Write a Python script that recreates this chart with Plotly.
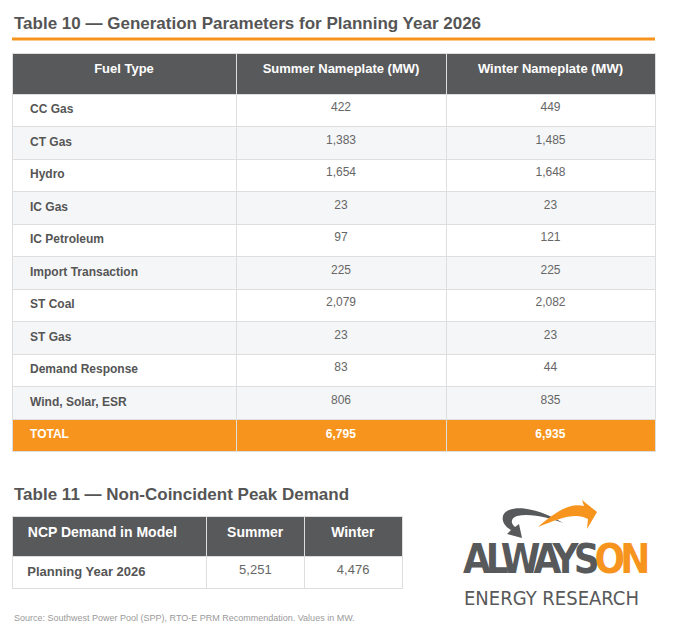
import plotly.graph_objects as go

# Table 10 data
fuel_types = ["CC Gas", "CT Gas", "Hydro", "IC Gas", "IC Petroleum", "Import Transaction",
              "ST Coal", "ST Gas", "Demand Response", "Wind, Solar, ESR"]
summer_mw = [422, 1383, 1654, 23, 97, 225, 2079, 23, 83, 806]
winter_mw = [449, 1485, 1648, 23, 121, 225, 2082, 23, 44, 835]
headers_10 = ["Fuel Type", "Summer Nameplate (MW)", "Winter Nameplate (MW)"]

# Table 11 data
headers_11 = ["NCP Demand in Model", "Summer", "Winter"]
ncp_label = ["Planning Year 2026"]
ncp_summer = [5251]
ncp_winter = [4476]

W, H = 673, 632
ORANGE = "#f7941d"
DARK = "#58595b"
TXT = "#555555"
NUM = "#666666"
GRID = "#dedede"
FONT = "Liberation Sans, Arial, sans-serif"
LOGO_FONT = "Liberation Sans Narrow, DejaVu Sans Condensed, sans-serif"
PAD = "&nbsp;&nbsp;&nbsp;"

n = len(fuel_types)
total_s = sum(summer_mw)
total_w = sum(winter_mw)

col1 = [PAD + "<b>%s</b>" % f for f in fuel_types] + [PAD + "<b>TOTAL</b>"]
col2 = ["{:,}".format(v) for v in summer_mw] + ["<b>{:,}</b>".format(total_s)]
col3 = ["{:,}".format(v) for v in winter_mw] + ["<b>{:,}</b>".format(total_w)]

row_fill = ["#ffffff" if i % 2 == 0 else "#f5f6f8" for i in range(n)] + [ORANGE]
fills = [row_fill] * 3
fc1 = [TXT] * n + ["white"]
fc2 = [NUM] * n + ["white"]

fig = go.Figure()

# empty trace so the pixel-based x/y axes exist for the shapes and labels
fig.add_trace(go.Scatter(x=[], y=[], hoverinfo="skip"))

fig.add_trace(go.Table(
    domain=dict(x=[12 / W, 655 / W], y=[1 - 475 / H, 1 - 53 / H]),
    columnwidth=[224, 210, 209],
    header=dict(values=["<b>%s</b>" % h for h in headers_10],
                fill_color=DARK, line=dict(color=GRID, width=1),
                font=dict(family=FONT, size=13, color="white"),
                align="center", height=41),
    cells=dict(values=[col1, col2, col3],
               fill_color=fills, line=dict(color=GRID, width=1),
               font=dict(family=FONT, size=12, color=[fc1, fc2, fc2]),
               align=["left", "center", "center"], height=32.5),
))

fig.add_trace(go.Table(
    domain=dict(x=[12 / W, 403 / W], y=[1 - 600 / H, 1 - 516 / H]),
    columnwidth=[195, 98, 98],
    header=dict(values=["&nbsp;&nbsp;<b>%s</b>" % headers_11[0]] + ["<b>%s</b>" % h for h in headers_11[1:]],
                fill_color=DARK, line=dict(color=GRID, width=1),
                font=dict(family=FONT, size=14, color="white"),
                align=["left", "center", "center"], height=40),
    cells=dict(values=[["&nbsp;&nbsp;<b>%s</b>" % s for s in ncp_label],
                       ["{:,}".format(v) for v in ncp_summer],
                       ["{:,}".format(v) for v in ncp_winter]],
               fill_color="white", line=dict(color=GRID, width=1),
               font=dict(family=FONT, size=13, color=[TXT, NUM, NUM]),
               align=["left", "center", "center"], height=32),
))

# titles and source
fig.add_annotation(x=12, y=23, text="<b>Table 10 — Generation Parameters for Planning Year 2026</b>",
                   xanchor="left", yanchor="middle", showarrow=False,
                   font=dict(family=FONT, size=17, color=TXT))
fig.add_shape(type="line", x0=12, x1=655, y0=39, y1=39, line=dict(color=ORANGE, width=3))
fig.add_annotation(x=12, y=494, text="<b>Table 11 — Non-Coincident Peak Demand</b>",
                   xanchor="left", yanchor="middle", showarrow=False,
                   font=dict(family=FONT, size=17, color=TXT))
fig.add_annotation(x=12, y=618, text="Source: Southwest Power Pool (SPP), RTO-E PRM Recommendation. Values in MW.",
                   xanchor="left", yanchor="middle", showarrow=False,
                   font=dict(family=FONT, size=9, color="#9a9a9a"))

# logo swirl
fig.add_shape(type="path", line=dict(width=0), fillcolor=DARK,
              path="M 563,523 C 545,512 520,504 507,511 C 499,516 503,526 511,530 "
                   "L 507,534 L 522,538 L 519,524 L 515,527 C 510,523 511,518 517,516 "
                   "C 531,513 550,518 563,523 Z")
fig.add_shape(type="path", line=dict(width=0), fillcolor=ORANGE,
              path="M 538,527 C 553,514 569,502 584,506 L 582,500 L 597,512 L 587,529 "
                   "L 588,519 C 576,512 560,518 538,527 Z")
fig.add_annotation(x=461, y=584, xanchor="left", yanchor="bottom", showarrow=False,
                   text="<span style='letter-spacing:-5px'><b>ALWAYS</b><span style='color:%s'><b>ON</b></span></span>" % ORANGE,
                   font=dict(family=LOGO_FONT, size=40, color=DARK))
fig.add_annotation(x=462, y=584, xanchor="left", yanchor="top", showarrow=False,
                   text="ENERGY RESEARCH",
                   font=dict(family=LOGO_FONT, size=20, color=DARK))

fig.update_xaxes(range=[0, W], visible=False, fixedrange=True)
fig.update_yaxes(range=[H, 0], visible=False, fixedrange=True)
fig.update_layout(width=W, height=H, margin=dict(l=0, r=0, t=0, b=0),
                  paper_bgcolor="white", plot_bgcolor="white", showlegend=False)

fig.write_html("out.html", config={"displayModeBar": False},
               post_script="document.body.style.margin='0';")
